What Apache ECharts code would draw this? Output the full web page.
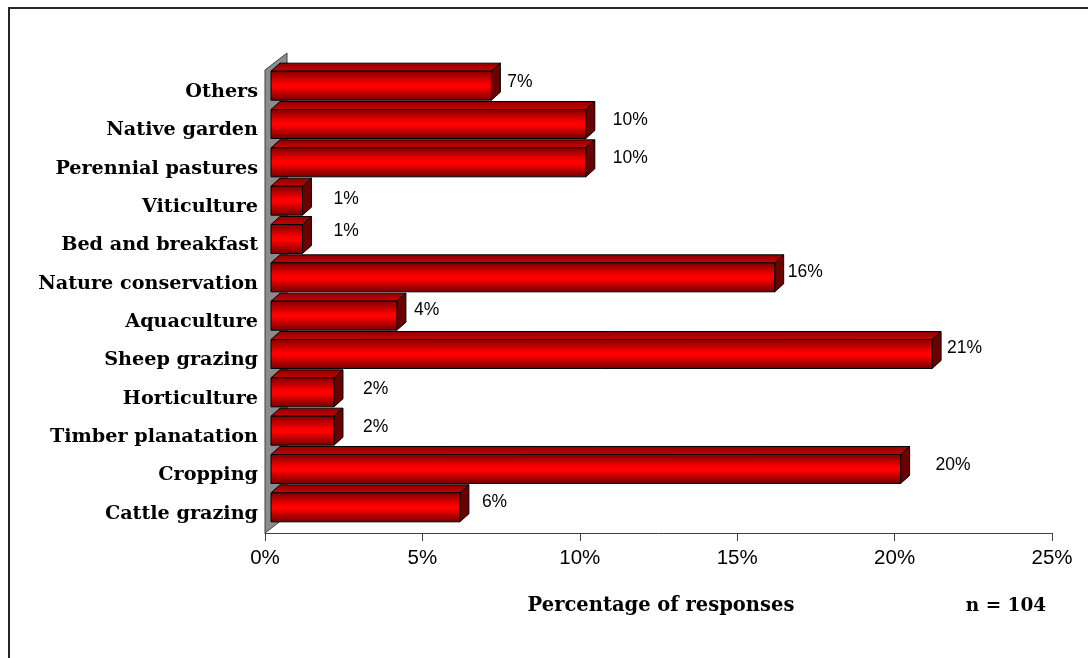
<!DOCTYPE html>
<html>
<head>
<meta charset="utf-8">
<script src="https://cdn.jsdelivr.net/npm/echarts@6/dist/echarts.min.js"></script>
<style>
  html, body { margin: 0; padding: 0; background: #fff; }
  #chart { width: 1088px; height: 658px; }
</style>
</head>
<body>
<div id="chart"></div>
<script>
// Land uses, listed top to bottom
const categories = [
  'Others', 'Native garden', 'Perennial pastures', 'Viticulture',
  'Bed and breakfast', 'Nature conservation', 'Aquaculture', 'Sheep grazing',
  'Horticulture', 'Timber planatation', 'Cropping', 'Cattle grazing'
];
// Share of responses (%)
const percentages = [7, 10, 10, 1, 1, 16, 4, 21, 2, 2, 20, 6];
// Axis ticks (%)
const tickMin = 0;
const tickMax = 25;
const tickStep = 5;
const axisTitle = 'Percentage of responses';
const sampleNote = 'n = 104';

// Per-bar nudges for the value labels (px after the bar end, px up/down)
const labelGap = [16, 27, 27, 31, 31, 13, 17, 15, 29, 29, 35, 22];
const labelRise = [-3.5, -4, -4, -1, -8, -5, -5, -5.5, -3, -3, -4, -5];

const GRID = { left: 265, right: 36, top: 73, bottom: 125 };
const W = 1088, H = 658;
const FRONT_SHIFT_X = 6, FRONT_SHIFT_Y = -6.5;   // front face relative to the axis plane
const BAR_DX = 9, BAR_DY = -8;                   // bar depth
const WALL_DX = 22, WALL_DY = -17;               // side wall depth

const chart = echarts.init(document.getElementById('chart'), null, { renderer: 'canvas' });

const frontFill = new echarts.graphic.LinearGradient(0, 0, 0, 1, [
  { offset: 0, color: '#7c0000' },
  { offset: 0.45, color: '#ff0000' },
  { offset: 0.55, color: '#ff0000' },
  { offset: 1, color: '#6e0000' }
]);
const topFill = new echarts.graphic.LinearGradient(0, 0, 0, 1, [
  { offset: 0, color: '#8a0000' },
  { offset: 1, color: '#d00000' }
]);

function renderBar(params, api) {
  const idx = api.value(0);
  const v = api.value(1);
  const p0 = api.coord([0, idx]);
  const p1 = api.coord([v, idx]);
  const band = api.size([0, 1])[1];
  const h = band * 0.757;
  const x0 = p0[0] + FRONT_SHIFT_X;
  const x1 = p1[0] + FRONT_SHIFT_X;
  const cy = p0[1] + FRONT_SHIFT_Y;
  const top = cy - h / 2, bot = cy + h / 2;
  const stroke = { stroke: '#000', lineWidth: 1 };
  return {
    type: 'group',
    children: [
      {
        type: 'polygon',
        shape: { points: [[x0, top], [x0 + BAR_DX, top + BAR_DY], [x1 + BAR_DX, top + BAR_DY], [x1, top]] },
        style: Object.assign({ fill: topFill }, stroke)
      },
      {
        type: 'polygon',
        shape: { points: [[x1, top], [x1 + BAR_DX, top + BAR_DY], [x1 + BAR_DX, bot + BAR_DY], [x1, bot]] },
        style: Object.assign({ fill: '#6a0000' }, stroke)
      },
      {
        type: 'rect',
        shape: { x: x0, y: top, width: x1 - x0, height: h },
        style: Object.assign({ fill: frontFill }, stroke)
      },
      {
        type: 'text',
        style: {
          text: v + '%',
          x: x1 + labelGap[idx],
          y: cy + labelRise[idx],
          verticalAlign: 'middle',
          align: 'left',
          fill: '#000',
          font: '17.5px "Liberation Sans", Arial, sans-serif'
        }
      }
    ]
  };
}

// Left side wall of the 3D frame
const axisX = GRID.left;
const floorY = H - GRID.bottom;
const wallTop = GRID.top - 3;

chart.setOption({
  animation: false,
  backgroundColor: '#fff',
  grid: { left: GRID.left, right: GRID.right, top: GRID.top, bottom: GRID.bottom },
  xAxis: {
    type: 'value',
    min: tickMin,
    max: tickMax,
    interval: tickStep,
    axisLine: { show: true, lineStyle: { color: '#404040', width: 1 } },
    axisTick: { show: true, length: 8, lineStyle: { color: '#404040' } },
    splitLine: { show: false },
    axisLabel: {
      formatter: '{value}%',
      margin: 15,
      color: '#000',
      fontSize: 20.5,
      fontFamily: '"Liberation Sans", Arial, sans-serif'
    }
  },
  yAxis: {
    type: 'category',
    inverse: true,
    data: categories,
    axisLine: { show: false },
    axisTick: { show: false },
    axisLabel: {
      margin: 7,
      color: '#000',
      fontSize: 19.2,
      fontWeight: 'bold',
      fontFamily: '"DejaVu Serif", serif'
    }
  },
  graphic: [
    {
      type: 'polygon',
      z: 0,
      shape: { points: [[axisX, floorY], [axisX, wallTop], [axisX + WALL_DX, wallTop + WALL_DY], [axisX + WALL_DX, floorY + WALL_DY]] },
      style: { fill: '#8c8c8c', stroke: '#404040', lineWidth: 1 }
    },
    {
      type: 'rect',
      z: 10,
      shape: { x: 9, y: 8, width: W + 20, height: H + 20 },
      style: { fill: 'none', stroke: '#262626', lineWidth: 2 }
    },
    {
      type: 'text',
      z: 10,
      x: 661, y: 606,
      style: {
        text: axisTitle, align: 'center', verticalAlign: 'middle', fill: '#000',
        font: 'bold 19.5px "DejaVu Serif", serif'
      }
    },
    {
      type: 'text',
      z: 10,
      x: 1006, y: 606,
      style: {
        text: sampleNote, align: 'center', verticalAlign: 'middle', fill: '#000',
        font: 'bold 18.5px "DejaVu Serif", serif'
      }
    }
  ],
  series: [{
    type: 'custom',
    z: 5,
    renderItem: renderBar,
    encode: { x: 1, y: 0 },
    data: percentages.map((v, i) => [i, v])
  }]
});
</script>
</body>
</html>
